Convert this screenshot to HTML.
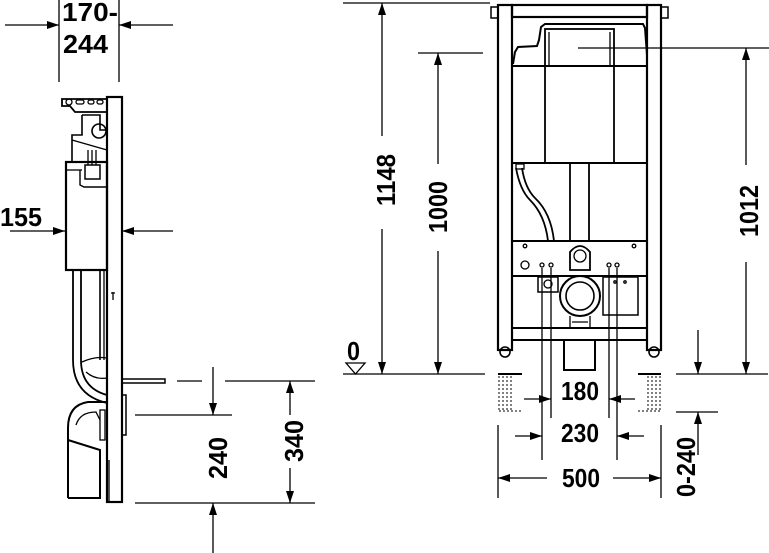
<!DOCTYPE html>
<html><head><meta charset="utf-8"><style>
html,body{margin:0;padding:0;background:#fff}
svg{display:block}
text{font-family:"Liberation Sans Narrow","Liberation Sans",sans-serif;font-weight:bold;font-size:26px;fill:#000}
</style></head><body>
<svg width="769" height="553" viewBox="0 0 769 553" xmlns="http://www.w3.org/2000/svg">
<defs>
<marker id="a" viewBox="0 0 12 8" refX="12" refY="4" markerWidth="12" markerHeight="8" markerUnits="userSpaceOnUse" orient="auto">
<path d="M0,0 L12,4 L0,8 Z" fill="#000"/></marker>
</defs>
<g stroke="#000" stroke-width="1.3" fill="none">
<!-- ===== LEFT VIEW ===== -->
<line x1="59" y1="0" x2="59" y2="82"/>
<line x1="119" y1="0" x2="119" y2="82"/>
<line x1="5" y1="25" x2="59" y2="25" marker-end="url(#a)"/>
<line x1="173" y1="25" x2="119" y2="25" marker-end="url(#a)"/>
<line x1="10" y1="231" x2="65" y2="231" marker-end="url(#a)"/>
<line x1="173" y1="231" x2="122" y2="231" marker-end="url(#a)"/>
<!-- plate -->
<rect x="107" y="97" width="15" height="405" stroke-width="2.2"/>
<line x1="109" y1="460" x2="109" y2="502"/>
<!-- bracket -->
<path d="M62,99 L107,99 L107,112 L75,112 L70,106 L62,106 Z" stroke-width="1.8"/>
<circle cx="69" cy="102" r="3"/>
<rect x="76" y="100" width="8" height="4" rx="2"/><rect x="88" y="100" width="6" height="4" rx="2"/><rect x="97" y="100" width="6" height="4" rx="2"/>
<!-- valve area -->
<path d="M82,115 L100,115 L100,130 L107,130 M82,115 L82,135 L72,135 L72,162" stroke-width="1.6"/>
<circle cx="99" cy="131" r="7" stroke-width="1.6"/>
<path d="M72,140 L107,150" />
<rect x="85" y="165" width="15" height="14" stroke-width="1.5"/>
<line x1="88" y1="150" x2="88" y2="165"/><line x1="92" y1="150" x2="92" y2="165"/><line x1="96" y1="150" x2="96" y2="165"/>
<!-- tank -->
<rect x="66" y="162" width="41" height="108" stroke-width="2.2"/>
<line x1="66" y1="170" x2="82" y2="170"/>
<path d="M80,170 L80,185 L84,187 L107,187" stroke-width="1.4"/>
<!-- pipes -->
<path d="M73,270 L73,360 Q73,395 107,403" stroke-width="1.8"/>
<path d="M81,270 L81,360 Q81,388 107,395" stroke-width="1.8"/>
<line x1="100" y1="270" x2="100" y2="360" stroke-width="1.6"/>
<line x1="104" y1="270" x2="104" y2="360"/>
<path d="M82,362 Q95,356 107,358 M86,372 Q95,380 107,378" />
<path d="M113,292 L113,300 M111,293 L115,293"/>
<!-- rod -->
<rect x="122" y="379" width="43" height="4" stroke-width="1.5"/>
<rect x="122" y="395" width="4" height="40" stroke-width="1.5"/>
<!-- bowl -->
<path d="M68,498 L68,428 Q68,405 88,402 L107,402 M68,498 L100,498 L100,450 L68,440" stroke-width="2"/>
<path d="M76,425 Q80,412 96,412 L100,420" />
<rect x="100" y="410" width="5" height="30"/>
<!-- 240 / 340 dims -->
<line x1="177" y1="381" x2="202" y2="381"/>
<line x1="225" y1="381" x2="315" y2="381"/>
<line x1="135" y1="415" x2="232" y2="415"/>
<line x1="135" y1="503" x2="315" y2="503"/>
<line x1="213" y1="367" x2="213" y2="415" marker-end="url(#a)"/>
<line x1="213" y1="553" x2="213" y2="503" marker-end="url(#a)"/>
<line x1="290" y1="415" x2="290" y2="381" marker-end="url(#a)"/>
<line x1="290" y1="468" x2="290" y2="503" marker-end="url(#a)"/>

<!-- ===== RIGHT VIEW ===== -->
<line x1="343" y1="3" x2="490" y2="3"/>
<line x1="418" y1="53" x2="483" y2="53"/>
<line x1="343" y1="374" x2="485" y2="374"/>
<line x1="382" y1="136" x2="382" y2="3" marker-end="url(#a)"/>
<line x1="382" y1="229" x2="382" y2="374" marker-end="url(#a)"/>
<line x1="438" y1="164" x2="438" y2="53" marker-end="url(#a)"/>
<line x1="438" y1="251" x2="438" y2="374" marker-end="url(#a)"/>
<path d="M346,363 L365,363 L355.5,374 Z"/>
<!-- frame posts -->
<rect x="498" y="5" width="14" height="345" stroke-width="2.2"/>
<rect x="647" y="5" width="14" height="345" stroke-width="2.2"/>
<rect x="512" y="5" width="135" height="12" stroke-width="2.2"/>
<rect x="491" y="7" width="7" height="11" stroke-width="1.5"/>
<rect x="661" y="7" width="7" height="11" stroke-width="1.5"/>
<!-- tank top -->
<path d="M513,64 L515,52 L518,47 L537,46 L539,40 L541,27 L545,24 L643,24 L645,28 L647,55 L647,65" stroke-width="2"/>
<rect x="545" y="29" width="69" height="37" stroke-width="1.8"/>
<line x1="549" y1="32" x2="549" y2="66"/><line x1="610" y1="32" x2="610" y2="66"/>
<line x1="578" y1="48" x2="769" y2="48"/>
<line x1="512" y1="66" x2="647" y2="66" stroke-width="2"/>
<line x1="545" y1="66" x2="545" y2="163" stroke-width="1.8"/>
<line x1="614" y1="66" x2="614" y2="163" stroke-width="1.8"/>
<line x1="512" y1="163" x2="647" y2="163" stroke-width="2"/>
<!-- column & hose -->
<line x1="570" y1="163" x2="570" y2="241" stroke-width="1.8"/>
<line x1="589" y1="163" x2="589" y2="241" stroke-width="1.8"/>
<path d="M516,168 Q520,190 530,200 Q545,215 548,241" stroke-width="1.8"/>
<path d="M522,168 Q525,188 535,198 Q551,213 554,241" stroke-width="1.8"/>
<rect x="516" y="164" width="8" height="5"/>
<!-- plate -->
<rect x="512" y="241" width="135" height="35" stroke-width="2"/>
<circle cx="525" cy="265" r="4"/>
<circle cx="525" cy="246" r="1.8"/><circle cx="634" cy="246" r="1.8"/>
<circle cx="542" cy="265" r="2"/><circle cx="551" cy="265" r="2"/>
<circle cx="609" cy="265" r="2"/><circle cx="617" cy="265" r="2"/>
<path d="M570,270 L570,252 Q580,240 590,252 L590,270 Z" stroke-width="1.8"/>
<circle cx="580" cy="256" r="6"/>
<!-- lower -->
<rect x="538" y="277" width="20" height="15" stroke-width="1.5"/>
<circle cx="548" cy="284" r="4"/>
<rect x="603" y="277" width="35" height="38" stroke-width="1.5"/>
<circle cx="615" cy="282" r="1.2"/><circle cx="625" cy="282" r="1.2"/>
<circle cx="580" cy="296" r="20" stroke-width="2"/>
<circle cx="580" cy="296" r="14" stroke-width="1.6"/>
<path d="M570,316 L570,328 M590,316 L590,328 M572,322 L588,322"/>
<rect x="512" y="328" width="135" height="12" stroke-width="2"/>
<rect x="564" y="340" width="31" height="30" stroke-width="2"/>
<!-- feet -->
<circle cx="505" cy="352" r="5" stroke-width="1.6"/>
<circle cx="654" cy="352" r="5" stroke-width="1.6"/>
<line x1="498" y1="374" x2="522" y2="374" stroke-width="2"/>
<line x1="638" y1="374" x2="661" y2="374" stroke-width="2"/>
<g stroke-dasharray="2,2" stroke-width="1">
<line x1="499" y1="376" x2="499" y2="411"/><line x1="503" y1="376" x2="503" y2="411"/><line x1="507" y1="376" x2="507" y2="411"/><line x1="511" y1="376" x2="511" y2="411"/>
<line x1="499" y1="411" x2="522" y2="411"/>
<line x1="648" y1="376" x2="648" y2="411"/><line x1="652" y1="376" x2="652" y2="411"/><line x1="656" y1="376" x2="656" y2="411"/><line x1="660" y1="376" x2="660" y2="411"/>
<line x1="638" y1="411" x2="660" y2="411"/>
</g>
<!-- hole extension lines -->
<line x1="542" y1="268" x2="542" y2="460"/>
<line x1="551" y1="268" x2="551" y2="418"/>
<line x1="609" y1="268" x2="609" y2="418"/>
<line x1="617" y1="268" x2="617" y2="460"/>
<line x1="524" y1="399" x2="551" y2="399" marker-end="url(#a)"/>
<line x1="635" y1="399" x2="609" y2="399" marker-end="url(#a)"/>
<line x1="515" y1="436" x2="542" y2="436" marker-end="url(#a)"/>
<line x1="644" y1="436" x2="617" y2="436" marker-end="url(#a)"/>
<line x1="498" y1="425" x2="498" y2="498"/>
<line x1="661" y1="425" x2="661" y2="498"/>
<line x1="547" y1="478" x2="498" y2="478" marker-end="url(#a)"/>
<line x1="613" y1="478" x2="661" y2="478" marker-end="url(#a)"/>
<!-- right dims -->
<line x1="676" y1="374" x2="768" y2="374"/>
<line x1="698" y1="330" x2="698" y2="374" marker-end="url(#a)"/>
<line x1="746" y1="165" x2="746" y2="48" marker-end="url(#a)"/>
<line x1="746" y1="262" x2="746" y2="374" marker-end="url(#a)"/>
<line x1="676" y1="412" x2="718" y2="412"/>
<line x1="698" y1="455" x2="698" y2="412" marker-end="url(#a)"/>
</g>
<!-- texts -->
<text x="62" y="21" textLength="56" lengthAdjust="spacingAndGlyphs">170-</text>
<text x="63" y="53" textLength="45" lengthAdjust="spacingAndGlyphs">244</text>
<text x="0" y="226" textLength="42" lengthAdjust="spacingAndGlyphs">155</text>
<text transform="translate(227,458) rotate(-90)" text-anchor="middle" textLength="42" lengthAdjust="spacingAndGlyphs">240</text>
<text transform="translate(303,441) rotate(-90)" text-anchor="middle" textLength="42" lengthAdjust="spacingAndGlyphs">340</text>
<text transform="translate(395,180) rotate(-90)" text-anchor="middle" textLength="52" lengthAdjust="spacingAndGlyphs">1148</text>
<text transform="translate(447,207) rotate(-90)" text-anchor="middle" textLength="52" lengthAdjust="spacingAndGlyphs">1000</text>
<text transform="translate(758,211) rotate(-90)" text-anchor="middle" textLength="52" lengthAdjust="spacingAndGlyphs">1012</text>
<text transform="translate(695,467) rotate(-90)" text-anchor="middle" textLength="60" lengthAdjust="spacingAndGlyphs">0-240</text>
<text x="347" y="360" textLength="13" lengthAdjust="spacingAndGlyphs">0</text>
<text x="561" y="400" textLength="38" lengthAdjust="spacingAndGlyphs">180</text>
<text x="561" y="442" textLength="38" lengthAdjust="spacingAndGlyphs">230</text>
<text x="562" y="487" textLength="38" lengthAdjust="spacingAndGlyphs">500</text>
</svg>
</body></html>
